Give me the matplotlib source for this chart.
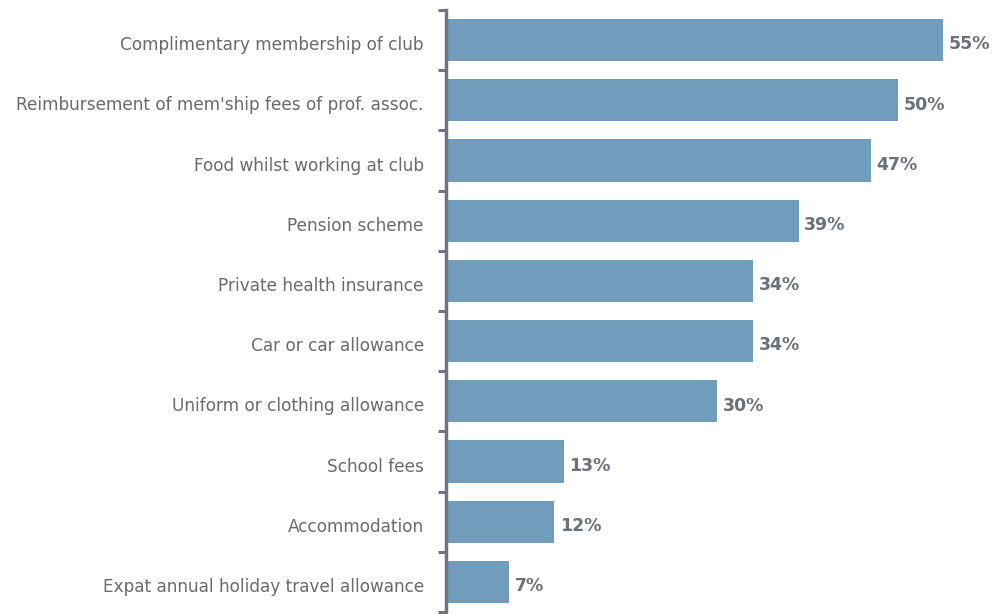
import matplotlib
matplotlib.use("Agg")
import matplotlib.pyplot as plt
import numpy as np

categories = [
    "Complimentary membership of club",
    "Reimbursement of mem'ship fees of prof. assoc.",
    "Food whilst working at club",
    "Pension scheme",
    "Private health insurance",
    "Car or car allowance",
    "Uniform or clothing allowance",
    "School fees",
    "Accommodation",
    "Expat annual holiday travel allowance",
]
values = [55, 50, 47, 39, 34, 34, 30, 13, 12, 7]
value_labels = ["55%", "50%", "47%", "39%", "34%", "34%", "30%", "13%", "12%", "7%"]

bar_color = "#729cbb"
axis_color = "#6f7580"
label_color = "#6a6a6a"
value_color = "#6b717a"

W, H = 996, 614
fig = plt.figure(figsize=(W / 100, H / 100), dpi=100)
left, right, top, bottom = 446, 990, 10, 612
ax = fig.add_axes([left / W, 1 - bottom / H, (right - left) / W, (bottom - top) / H])

n = len(categories)
y = np.arange(n)
ax.barh(y, values, height=0.7, color=bar_color, zorder=2)
ax.set_ylim(n - 0.5, -0.5)
ax.set_xlim(0, (right - left) / 9.04)

for yi, v, lab in zip(y, values, value_labels):
    ax.text(v + 0.6, yi + 0.07, lab, va="center", ha="left", fontsize=12.5,
            fontweight="bold", color=value_color, family="DejaVu Sans")

ax.set_yticks(y + 0.05)
ax.set_yticklabels(categories, fontsize=12.2, color=label_color, family="DejaVu Sans")
ax.tick_params(axis="y", which="major", length=0, pad=16)
ax.set_yticks(np.arange(n + 1) - 0.5, minor=True)
ax.tick_params(axis="y", which="minor", length=6, width=2.2, color=axis_color)

ax.set_xticks([])
for s in ["top", "right", "bottom"]:
    ax.spines[s].set_visible(False)
ax.spines["left"].set_color(axis_color)
ax.spines["left"].set_linewidth(2.5)

fig.savefig("out.png", dpi=100)
